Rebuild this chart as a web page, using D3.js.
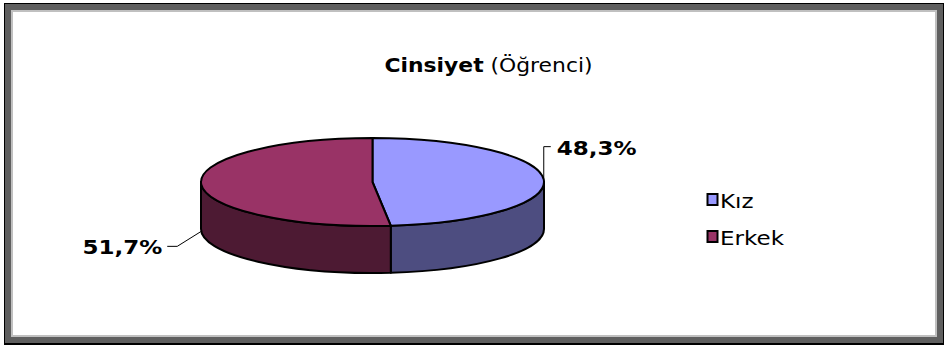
<!DOCTYPE html>
<html>
<head>
<meta charset="utf-8">
<script src="https://cdn.jsdelivr.net/npm/d3@7/dist/d3.min.js"></script>
<style>
  html, body { margin: 0; padding: 0; background: #fff; }
  svg { display: block; }
</style>
</head>
<body>
<svg id="chart" width="944" height="347"></svg>
<script>
// Data
const categories = ["Kız", "Erkek"];
const values = [48.3, 51.7];
const valueLabels = ["48,3%", "51,7%"];
const topColors = ["#9999FF", "#993366"];
const sideColors = ["#4D4D80", "#4D1A33"];

const svg = d3.select("#chart");
const FONT = "'DejaVu Sans', Verdana, sans-serif";
const SX = 1.15; // horizontal text stretch

// Frame: black outline, dark shadow band, light inner rule, white plot area
svg.append("rect").attr("x", 4).attr("y", 3).attr("width", 940).attr("height", 342).attr("fill", "#000");
svg.append("rect").attr("x", 5).attr("y", 4).attr("width", 938).attr("height", 339).attr("fill", "#5f5f5f");
svg.append("rect").attr("x", 11).attr("y", 10).attr("width", 926).attr("height", 327).attr("fill", "#c0c0c0");
svg.append("rect").attr("x", 13).attr("y", 12).attr("width", 922).attr("height", 323).attr("fill", "#fff");

function stretchedText(x, y, anchor) {
  return svg.append("text")
    .attr("transform", `translate(${x},${y}) scale(${SX},1)`)
    .attr("text-anchor", anchor)
    .attr("font-family", FONT);
}

// Title
const title = stretchedText(488.5, 72, "middle").attr("font-size", 19).attr("fill", "#000");
title.append("tspan").attr("font-weight", "bold").text("Cinsiyet");
title.append("tspan").text(" (Öğrenci)");

// 3D pie geometry
const cx = 372.5, cy = 182, rx = 171.5, ry = 44, depth = 47;
const arcs = d3.pie().sort(null).value(d => d)(values);
const pt = (a, dy = 0) => [cx + rx * Math.sin(a), cy - ry * Math.cos(a) + dy];

// Side walls (front half only: angles between PI/2 and 3PI/2)
arcs.forEach((d, i) => {
  const b0 = Math.max(d.startAngle, Math.PI / 2);
  const b1 = Math.min(d.endAngle, 3 * Math.PI / 2);
  if (b1 <= b0) return;
  const p0 = pt(b0), p1 = pt(b1), q1 = pt(b1, depth), q0 = pt(b0, depth);
  const large = (b1 - b0) > Math.PI ? 1 : 0;
  const path = `M${p0} A${rx},${ry} 0 ${large} 1 ${p1} L${q1} A${rx},${ry} 0 ${large} 0 ${q0} Z`;
  svg.append("path").attr("d", path)
    .attr("fill", sideColors[i]).attr("stroke", "#000")
    .attr("stroke-width", 2).attr("stroke-linejoin", "round");
});

// Top faces
arcs.forEach((d, i) => {
  const p0 = pt(d.startAngle), p1 = pt(d.endAngle);
  const large = (d.endAngle - d.startAngle) > Math.PI ? 1 : 0;
  const path = `M${cx},${cy} L${p0} A${rx},${ry} 0 ${large} 1 ${p1} Z`;
  svg.append("path").attr("d", path)
    .attr("fill", topColors[i]).attr("stroke", "#000")
    .attr("stroke-width", 2).attr("stroke-linejoin", "round");
});

// Leader lines and value labels
arcs.forEach((d, i) => {
  const mid = (d.startAngle + d.endAngle) / 2;
  const front = Math.cos(mid) < 0;
  const anchor = pt(mid, front ? depth : 0);
  const right = Math.sin(mid) >= 0;
  let elbow, end;
  if (right) {
    elbow = [anchor[0], anchor[1] - 33];
    end = [elbow[0] + 7, elbow[1]];
  } else {
    elbow = [anchor[0] - 24, anchor[1] + 15];
    end = [elbow[0] - 10, elbow[1]];
  }
  svg.append("polyline")
    .attr("points", [anchor, elbow, end].map(p => p.join(",")).join(" "))
    .attr("fill", "none").attr("stroke", "#000").attr("stroke-width", 1);
  stretchedText(right ? end[0] + 6 : end[0] - 5, end[1] + 8, right ? "start" : "end")
    .attr("font-size", 20).attr("font-weight", "bold").attr("fill", "#000")
    .text(valueLabels[i]);
});

// Legend
const legend = svg.append("g");
categories.forEach((c, i) => {
  const y = 194 + i * 37;
  legend.append("rect").attr("x", 707.5).attr("y", y).attr("width", 10).attr("height", 11)
    .attr("fill", topColors[i]).attr("stroke", "#000").attr("stroke-width", 2);
  stretchedText(720, y + 14, "start").attr("font-size", 20).attr("fill", "#000").text(c);
});
</script>
</body>
</html>
